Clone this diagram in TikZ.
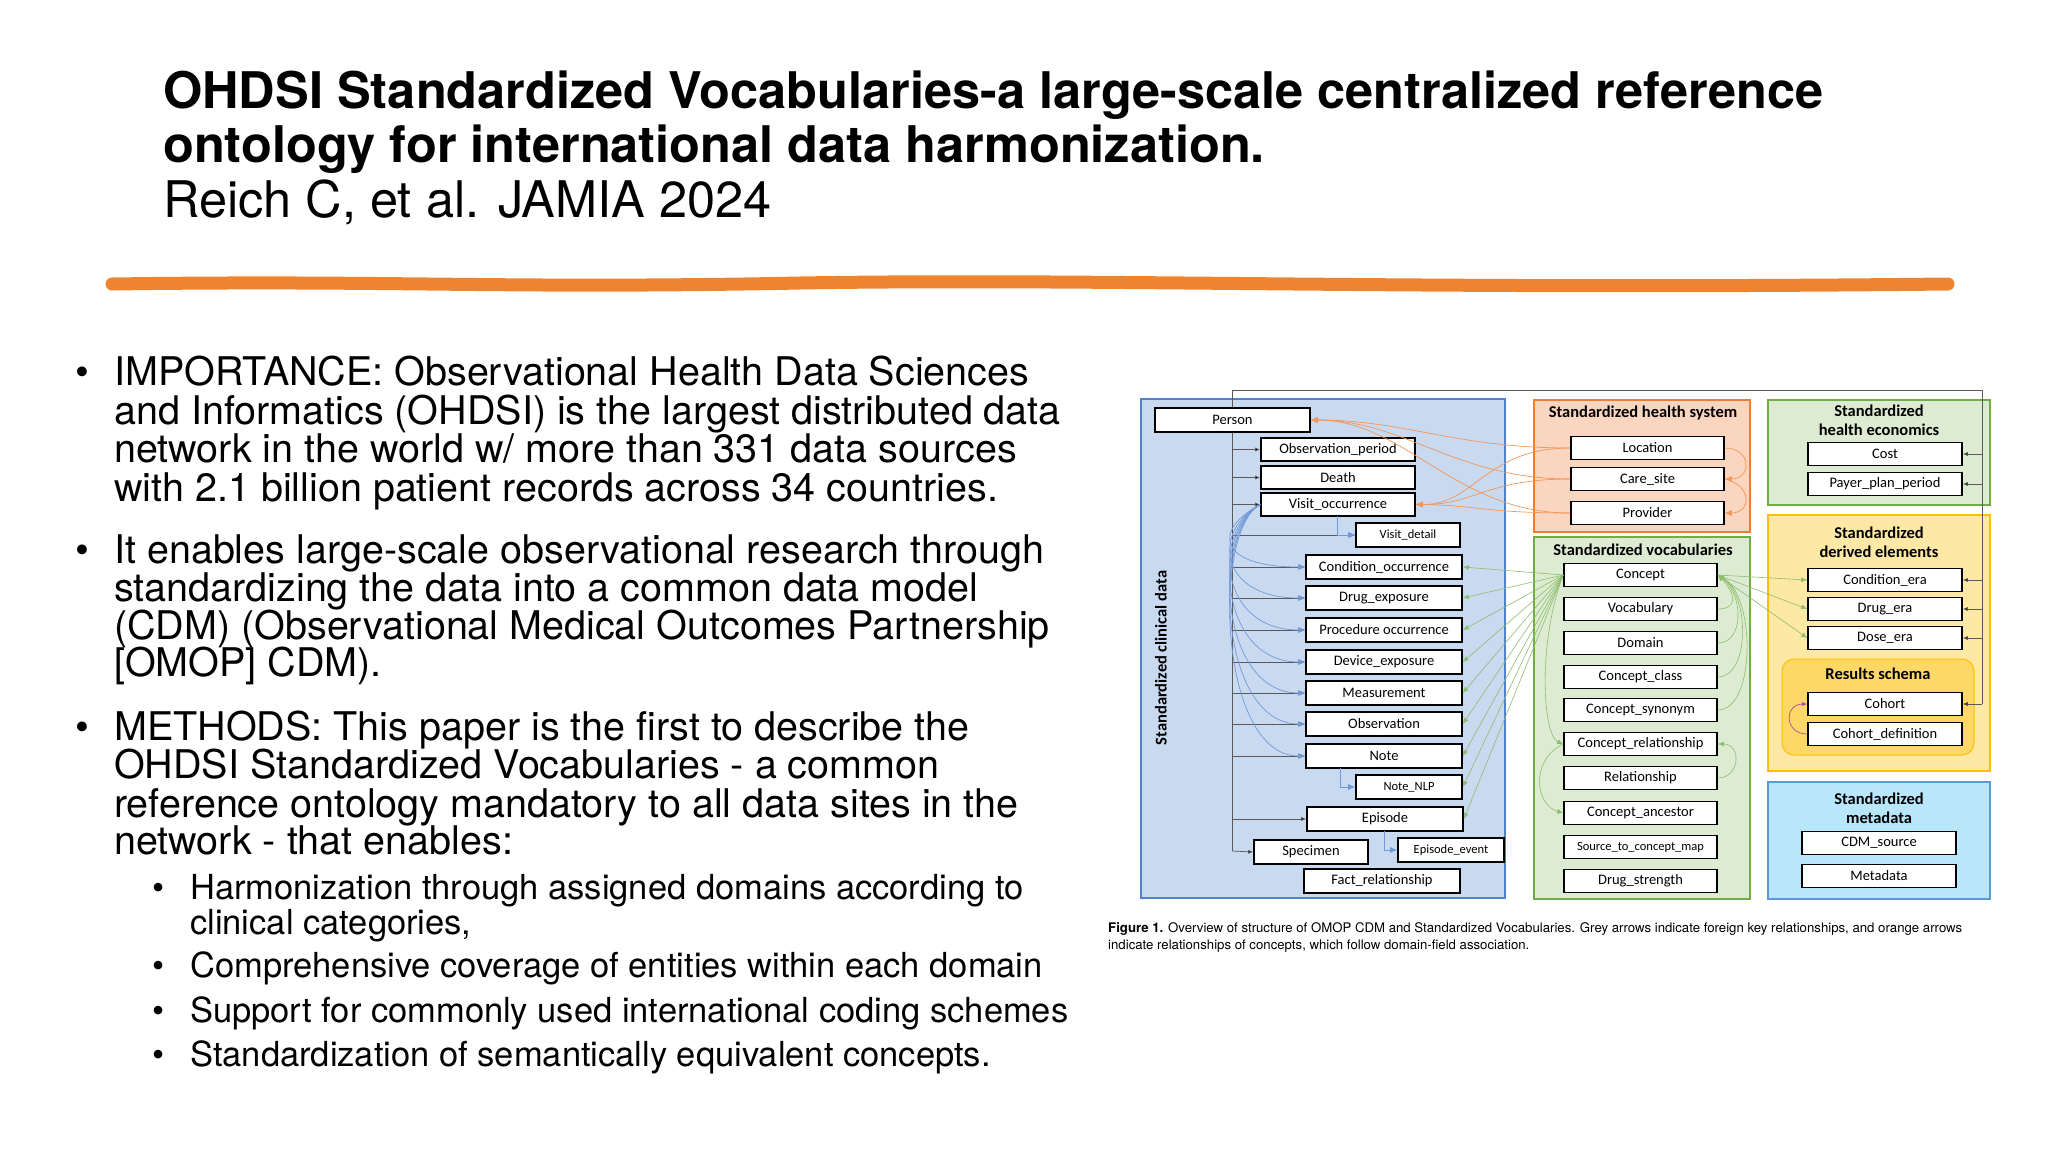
\documentclass[tikz,border=0pt]{standalone}
\usepackage{fontspec}
\setmainfont{TeX Gyre Heros}
\newfontfamily\calfont{Carlito}
\usetikzlibrary{arrows.meta}
\definecolor{bluefill}{HTML}{C9D9F0}\definecolor{blueline}{HTML}{4F81D0}
\definecolor{orfill}{HTML}{FAD5C0}\definecolor{orline}{HTML}{ED7D31}
\definecolor{grfill}{HTML}{DDEBD2}\definecolor{grline}{HTML}{70AD47}
\definecolor{yefill}{HTML}{FDE8A6}\definecolor{yeline}{HTML}{FFC000}
\definecolor{refill}{HTML}{FDD867}
\definecolor{mefill}{HTML}{B8E6FB}\definecolor{meline}{HTML}{5B9BD5}
\definecolor{brush}{HTML}{EE8430}
\newcommand\mkbox[6]{\node[tbl,minimum width={#4-#2},minimum height={#5-#3}] (#1) at ({(#2+#4)/2},{(#3+#5)/2}) {#6};}
\newcommand\rbox[5]{\node[tbl,minimum width={#3-#2},minimum height=23] (#1) at ({(#2+#3)/2},#4) {#5};}
\begin{document}
\begin{tikzpicture}[x=1pt,y=-1pt,
 tbl/.style={draw=black,line width=1.6pt,fill=white,inner sep=0pt,font=\calfont\fontsize{14.5}{15}\selectfont},
 panel/.style={line width=1.6pt},
 ptitle/.style={font=\calfont\bfseries\fontsize{16.5}{19}\selectfont,align=center},
 gr/.style={draw=gray!70!black,line width=0.7pt,-{Latex[length=5pt,width=4pt,fill=black]}},
 bl/.style={draw=blueline!80,line width=0.7pt,-{Latex[length=7pt,width=6pt]}},
 orc/.style={draw=orline!80,line width=0.7pt,-{Latex[length=7pt,width=6pt]}},
 grc/.style={draw=grline!80,line width=0.6pt,-{Latex[length=6pt,width=5pt]}},
 bul/.style={anchor=base west,font=\fontsize{39.5}{44}\selectfont,inner sep=0pt},
 sbul/.style={anchor=base west,font=\fontsize{34.5}{40}\selectfont,inner sep=0pt}]
\useasboundingbox (0,0) rectangle (2048,1152);
% title
\node[anchor=base west,inner sep=0pt,font=\bfseries\fontsize{50.5}{54}\selectfont] (t1) at (163,108) {OHDSI Standardized Vocabularies-a large-scale centralized reference};
\node[anchor=base west,inner sep=0pt,font=\bfseries\fontsize{50.5}{54}\selectfont] (t2) at (163,162) {ontology for international data harmonization.};
\node[anchor=base west,inner sep=0pt,font=\fontsize{50.5}{54}\selectfont] (t3) at (163,217) {Reich C, et al. JAMIA 2024};
\draw[brush,line width=13pt,line cap=round] (112,284) .. controls (400,280) and (500,289) .. (800,283) .. controls (1100,278) and (1400,290) .. (1948,284);
% bullets
\foreach \y in {385,563,740} \node[bul] at (75,\y) {•};
\node[bul] at (114,385) {IMPORTANCE: Observational Health Data Sciences};
\node[bul] at (114,424) {and Informatics (OHDSI) is the largest distributed data};
\node[bul] at (114,462) {network in the world w/ more than 331 data sources};
\node[bul] at (114,501) {with 2.1 billion patient records across 34 countries.};
\node[bul] at (114,563) {It enables large-scale observational research through};
\node[bul] at (114,601) {standardizing the data into a common data model};
\node[bul] at (114,639) {(CDM) (Observational Medical Outcomes Partnership};
\node[bul] at (114,676) {[OMOP] CDM).};
\node[bul] at (114,740) {METHODS: This paper is the first to describe the};
\node[bul] at (114,778) {OHDSI Standardized Vocabularies - a common};
\node[bul] at (114,817) {reference ontology mandatory to all data sites in the};
\node[bul] at (114,854) {network - that enables:};
\foreach \y in {899,977,1022,1066} \node[sbul] at (152,\y) {•};
\node[sbul] at (190,899) {Harmonization through assigned domains according to};
\node[sbul] at (190,934) {clinical categories,};
\node[sbul] at (190,977) {Comprehensive coverage of entities within each domain};
\node[sbul] at (190,1022) {Support for commonly used international coding schemes};
\node[sbul] at (190,1066) {Standardization of semantically equivalent concepts.};
% panels
\draw[panel,draw=blueline,fill=bluefill] (1141,399) rectangle (1505,898);
\draw[panel,draw=orline,fill=orfill] (1534,400) rectangle (1750,532);
\draw[panel,draw=grline,fill=grfill] (1534,537) rectangle (1750,899);
\draw[panel,draw=grline,fill=grfill] (1768,400) rectangle (1990,505);
\draw[panel,draw=yeline,fill=yefill] (1768,515) rectangle (1990,771);
\draw[line width=1pt,draw=yeline,fill=refill,rounded corners=12pt] (1782,659) rectangle (1974,755);
\draw[panel,draw=meline,fill=mefill] (1768,782) rectangle (1990,899);
\node[ptitle,rotate=90] (sct) at (1161,658) {Standardized clinical data};
\node[ptitle] (hst) at (1643,413) {Standardized health system};
\node[ptitle] (vot) at (1643,550) {Standardized vocabularies};
\node[ptitle] (het) at (1879,420) {Standardized\\health economics};
\node[ptitle] (det) at (1879,542) {Standardized\\derived elements};
\node[ptitle] (rst) at (1878,674) {Results schema};
\node[ptitle] (met) at (1879,808) {Standardized\\metadata};
% grey trunk
\coordinate (tt) at (1232,390);
\coordinate (tr) at (1982,390);
\coordinate (tb) at (1232,851);
\draw[gray!70!black,line width=0.7pt] (tt) -- (tb) (tt) -- (tr) -- (1982,704);
% boxes
\mkbox{person}{1155}{408}{1310}{432}{Person}
\mkbox{obsp}{1261}{438}{1415}{461}{Observation\_period}
\mkbox{death}{1261}{466}{1415}{489}{Death}
\mkbox{visit}{1261}{493}{1415}{516}{Visit\_occurrence}
\mkbox{vdet}{1356}{523}{1460}{547}{\fontsize{12.5}{13}\selectfont Visit\_detail}
\mkbox{cond}{1306}{555}{1462}{579}{Condition\_occurrence}
\mkbox{drug}{1306}{586}{1462}{610}{Drug\_exposure}
\mkbox{proc}{1306}{618}{1462}{642}{Procedure occurrence}
\mkbox{dev}{1306}{650}{1462}{674}{Device\_exposure}
\mkbox{meas}{1306}{681}{1462}{705}{Measurement}
\mkbox{obs}{1306}{712}{1462}{736}{Observation}
\mkbox{note}{1306}{744}{1462}{768}{Note}
\mkbox{nlp}{1356}{775}{1462}{799}{\fontsize{12.5}{13}\selectfont Note\_NLP}
\mkbox{epi}{1307}{807}{1463}{831}{Episode}
\mkbox{spec}{1254}{840}{1368}{864}{Specimen}
\mkbox{epev}{1398}{838}{1504}{862}{\fontsize{12.5}{13}\selectfont Episode\_event}
\mkbox{fact}{1304}{869}{1460}{893}{Fact\_relationship}
\rbox{loc}{1571}{1724}{448}{Location}
\rbox{care}{1571}{1724}{479}{Care\_site}
\rbox{prov}{1571}{1724}{513}{Provider}
\rbox{con}{1564}{1717}{575}{Concept}
\rbox{voc}{1564}{1717}{609}{Vocabulary}
\rbox{dom}{1564}{1717}{643}{Domain}
\rbox{ccl}{1564}{1717}{677}{Concept\_class}
\rbox{csy}{1564}{1717}{710}{Concept\_synonym}
\rbox{cre}{1564}{1717}{744}{Concept\_relationship}
\rbox{rel}{1564}{1717}{778}{Relationship}
\rbox{anc}{1564}{1717}{813}{Concept\_ancestor}
\rbox{stc}{1564}{1717}{847}{\fontsize{12.5}{13}\selectfont Source\_to\_concept\_map}
\rbox{dst}{1564}{1717}{881}{Drug\_strength}
\rbox{cost}{1808}{1962}{454}{Cost}
\rbox{payer}{1808}{1962}{484}{Payer\_plan\_period}
\rbox{cera}{1808}{1962}{580}{Condition\_era}
\rbox{dera}{1808}{1962}{609}{Drug\_era}
\rbox{dose}{1808}{1962}{638}{Dose\_era}
\rbox{coh}{1808}{1962}{704}{Cohort}
\rbox{cohd}{1808}{1962}{734}{Cohort\_definition}
\rbox{cdm}{1802}{1956}{843}{CDM\_source}
\rbox{meta}{1802}{1956}{876}{Metadata}
% grey arrows
\foreach \n in {obsp,death,visit,vdet,cond,drug,proc,dev,meas,obs,note,epi}
  \draw[gr] (tt |- \n.west) -- (\n.west);
\draw[gr] (tb) -- (spec.west);
\foreach \n in {cost,payer,cera,dera,dose,coh}
  \draw[gr] (tr |- \n.east) -- (\n.east);
% blue
\foreach \n/\y in {cond/567,drug/598,proc/630,dev/662,meas/693,obs/724,note/756}
  \draw[bl] (visit.west) .. controls (1212,530) and (1218,\y) .. (\n.west);
\draw[bl] (1337,516) |- (vdet.west);
\draw[bl] (1340,768) |- (nlp.west);
\draw[bl] (1384,831) |- (epev.west);
% orange
\foreach \n/\y in {loc/448,care/479,prov/513}{
  \draw[orc] (\n.west) .. controls (1455,\y) and (1405,420) .. (person.east);
  \draw[orc] (\n.west) .. controls (1485,\y) and (1475,505) .. (visit.east);}
\draw[orc] (loc.east) .. controls (1752,448) and (1752,479) .. (care.east);
\draw[orc] (care.east) .. controls (1752,485) and (1752,513) .. (prov.east);
% green
\foreach \n in {cond,drug,proc,dev,meas,obs,note,nlp,epi}
  \draw[grc] (con.west) -- (\n.east);
\foreach \n in {cera,dera,dose}
  \draw[grc] (con.east) -- (\n.west);
\foreach \n/\c/\y in {voc/1737/609,dom/1744/643,ccl/1750/677,csy/1756/710}
  \draw[grc] (\n.east) .. controls (\c,\y) and (\c,595) .. (con.east);
\draw[grc] (rel.east) .. controls (1740,778) and (1742,744) .. (cre.east);
\draw[grc] (con.west) .. controls (1538,640) and (1542,735) .. (cre.west);
\draw[grc] (cre.west) .. controls (1530,760) and (1535,805) .. (anc.west);
\draw[draw=violet!70,line width=0.7pt,-{Latex[length=5pt,width=4pt]}] (cohd.west) .. controls (1784,734) and (1784,704) .. (coh.west);
% caption
\node[anchor=north west,inner sep=0pt,align=left,font=\fontsize{13.2}{17}\selectfont] (cap) at (1108,922)
 {\textbf{Figure 1.} Overview of structure of OMOP CDM and Standardized Vocabularies. Grey arrows indicate foreign key relationships, and orange arrows\\indicate relationships of concepts, which follow domain-field association.};
\end{tikzpicture}
\end{document}
